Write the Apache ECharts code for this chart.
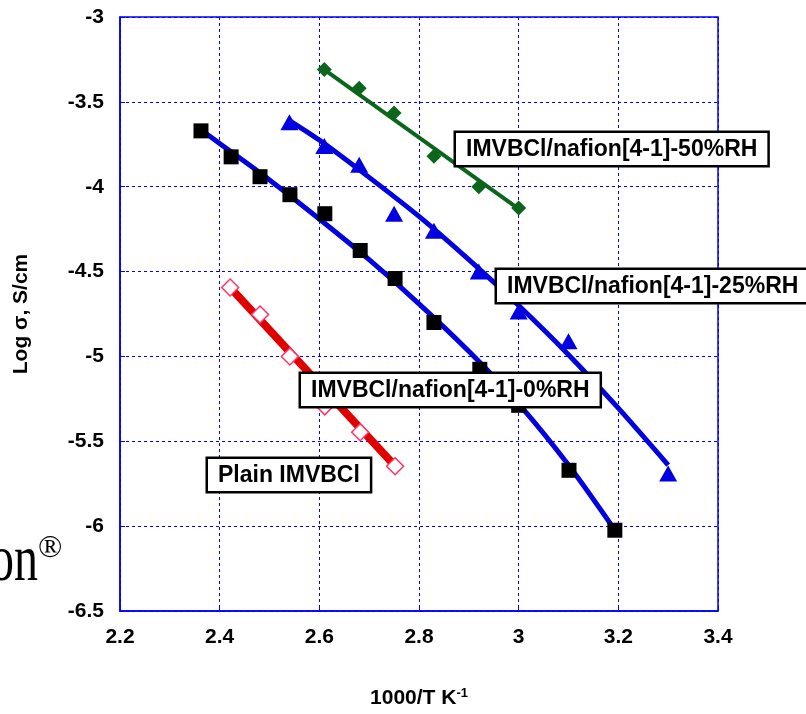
<!DOCTYPE html>
<html><head><meta charset="utf-8">
<script src="https://cdn.jsdelivr.net/npm/echarts@6/dist/echarts.min.js"></script>
<style>html,body{margin:0;padding:0;background:#fff}#c{width:806px;height:714px}</style>
</head><body><div id="c"></div>
<script>
// tick values
const xTicks = [2.2, 2.4, 2.6, 2.8, 3.0, 3.2, 3.4];
const yTicks = [-6.5, -6, -5.5, -5, -4.5, -4, -3.5, -3];

// IMVBCl/nafion[4-1]-50%RH (green diamonds)
const rh50X = [2.61, 2.68, 2.75, 2.83, 2.92, 3.0];
const rh50Y = [-3.31, -3.42, -3.565, -3.82, -4.0, -4.125];
const fit50X = [2.61, 3.0];
const fit50Y = [-3.31, -4.13];

// IMVBCl/nafion[4-1]-25%RH (blue triangles)
const rh25X = [2.54, 2.61, 2.68, 2.75, 2.83, 2.92, 3.0, 3.1, 3.3];
const rh25Y = [-3.62, -3.76, -3.87, -4.16, -4.26, -4.50, -4.735, -4.91, -5.69];
const fit25X = [2.54, 2.6, 2.7, 2.8, 2.9, 3.0, 3.1, 3.2, 3.3];
const fit25Y = [-3.61, -3.725, -3.945, -4.175, -4.43, -4.70, -4.99, -5.305, -5.64];

// IMVBCl/nafion[4-1]-0%RH (black squares)
const rh0X = [2.3625, 2.423, 2.481, 2.541, 2.611, 2.682, 2.752, 2.83, 2.922, 3.0, 3.101, 3.193];
const rh0Y = [-3.671, -3.824, -3.941, -4.047, -4.159, -4.376, -4.541, -4.80, -5.076, -5.288, -5.671, -6.024];
const fit0X = [2.36, 2.4, 2.5, 2.6, 2.7, 2.8, 2.9, 3.0, 3.1, 3.19];
const fit0Y = [-3.66, -3.745, -3.96, -4.19, -4.43, -4.69, -4.97, -5.28, -5.64, -6.01];

// Plain IMVBCl (open red diamonds)
const plainX = [2.421, 2.481, 2.541, 2.611, 2.682, 2.752];
const plainY = [-4.594, -4.753, -5.0, -5.294, -5.447, -5.647];
const fitPlainX = [2.42, 2.755];
const fitPlainY = [-4.59, -5.655];

// label texts
const labels = ['IMVBCl/nafion[4-1]-50%RH', 'IMVBCl/nafion[4-1]-25%RH', 'IMVBCl/nafion[4-1]-0%RH', 'Plain IMVBCl'];

const zip = (a, b) => a.map((v, i) => [v, b[i]]);
const FONT = '"Liberation Sans", Arial, Helvetica, sans-serif';
const SERIF = '"Liberation Serif", "Times New Roman", serif';
const BLUE = '#0000ff';
const LINEBLUE = '#0000e0';
const GREEN = '#0b661c';

const chart = echarts.init(document.getElementById('c'), null, {renderer: 'canvas'});

function boxLabel(text, x, y) {
  return {
    type: 'text', x: x, y: y, z: 100,
    style: {
      text: text, font: 'bold 23px ' + FONT, fill: '#000',
      backgroundColor: '#fff', borderColor: '#000', borderWidth: 2.5,
      padding: [5, 10, 4, 10], align: 'left', verticalAlign: 'top'
    }
  };
}

const option = {
  animation: false,
  backgroundColor: '#fff',
  grid: {left: 120, right: 88, top: 17, bottom: 102, show: true, borderColor: BLUE, borderWidth: 1.5},
  xAxis: {
    type: 'value', min: xTicks[0], max: xTicks[xTicks.length - 1], interval: 0.2,
    axisLine: {show: true, onZero: false, lineStyle: {color: BLUE, width: 1.5}},
    axisTick: {show: true, inside: true, length: 5, lineStyle: {color: BLUE}},
    splitLine: {show: true, lineStyle: {color: BLUE, type: [3, 3], width: 1}},
    axisLabel: {color: '#000', fontSize: 21, fontWeight: 'bold', fontFamily: FONT, margin: 16,
      formatter: v => String(+(+v).toFixed(1))},
    name: '{a|1000/T K}{b|-1}', nameLocation: 'middle', nameGap: 76,
    nameTextStyle: {color: '#000', rich: {
      a: {fontSize: 21, fontWeight: 'bold', fontFamily: FONT, color: '#000'},
      b: {fontSize: 13, fontWeight: 'bold', fontFamily: FONT, color: '#000', verticalAlign: 'top', padding: [0, 0, 10, 0]}
    }}
  },
  yAxis: {
    type: 'value', min: yTicks[0], max: yTicks[yTicks.length - 1], interval: 0.5,
    axisLine: {show: true, onZero: false, lineStyle: {color: BLUE, width: 1.5}},
    axisTick: {show: true, inside: true, length: 5, lineStyle: {color: BLUE}},
    splitLine: {show: true, lineStyle: {color: BLUE, type: [3, 3], width: 1}},
    axisLabel: {color: '#000', fontSize: 21, fontWeight: 'bold', fontFamily: FONT, margin: 16,
      formatter: v => String(+(+v).toFixed(1))},
    name: 'Log σ, S/cm', nameLocation: 'middle', nameGap: 88, nameRotate: 90,
    nameTextStyle: {color: '#000', fontSize: 21, fontWeight: 'bold', fontFamily: FONT}
  },
  series: [
    {type: 'line', data: zip(fit50X, fit50Y), showSymbol: false, lineStyle: {color: GREEN, width: 4}, z: 2},
    {type: 'line', data: zip(fit25X, fit25Y), smooth: 0.25, showSymbol: false, lineStyle: {color: LINEBLUE, width: 5}, z: 2},
    {type: 'line', data: zip(fit0X, fit0Y), smooth: 0.25, showSymbol: false, lineStyle: {color: LINEBLUE, width: 5}, z: 2},
    {type: 'line', data: zip(fitPlainX, fitPlainY), showSymbol: false, lineStyle: {color: '#e00000', width: 8}, z: 2},
    {type: 'scatter', data: zip(rh50X, rh50Y), symbol: 'diamond', symbolSize: 15, itemStyle: {color: GREEN, opacity: 1}, z: 3},
    {type: 'scatter', data: zip(rh25X, rh25Y), symbol: 'triangle', symbolSize: [18, 16], itemStyle: {color: LINEBLUE, opacity: 1}, z: 3},
    {type: 'scatter', data: zip(rh0X, rh0Y), symbol: 'rect', symbolSize: 15, itemStyle: {color: '#000', opacity: 1}, z: 3},
    {type: 'scatter', data: zip(plainX, plainY), symbol: 'diamond', symbolSize: 17, itemStyle: {color: '#fff', borderColor: '#ff3366', borderWidth: 1.5, opacity: 1}, z: 3}
  ],
  graphic: {elements: [
    boxLabel(labels[0], 456, 133),
    boxLabel(labels[1], 497, 270),
    boxLabel(labels[2], 301, 374),
    boxLabel(labels[3], 208, 459),
    {type: 'text', x: 38, y: 583, scaleY: 1.35, z: 100, style: {text: 'on', x: 0, y: -15, font: '48px ' + SERIF, fill: '#000', align: 'right', verticalAlign: 'middle'}},
    {type: 'text', x: 38, y: 549, z: 100, style: {text: '®', font: '32px ' + SERIF, fill: '#000', align: 'left', verticalAlign: 'middle'}}
  ]}
};
chart.setOption(option);
</script>
</body></html>
